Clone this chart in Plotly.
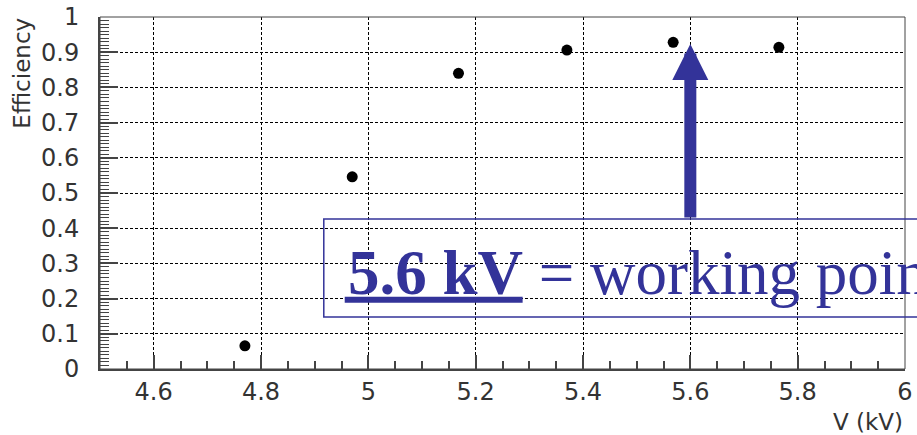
import plotly.graph_objects as go

# Data
voltage_kv = [4.77, 4.97, 5.168, 5.37, 5.568, 5.765]
efficiency = [0.066, 0.546, 0.840, 0.906, 0.928, 0.914]

x_tickvals = [4.6, 4.8, 5.0, 5.2, 5.4, 5.6, 5.8, 6.0]
x_ticktext = ["4.6", "4.8", "5", "5.2", "5.4", "5.6", "5.8", "6"]
y_tickvals = [0, 0.1, 0.2, 0.3, 0.4, 0.5, 0.6, 0.7, 0.8, 0.9, 1.0]
y_ticktext = ["0", "0.1", "0.2", "0.3", "0.4", "0.5", "0.6", "0.7", "0.8", "0.9", "1"]

working_point = 5.6
arrow_tip_y = 0.923
box_top_y = 0.426
box_bottom_y = 0.148

BLUE = "rgb(51,51,153)"
AXC = "#444444"
TICKFONT = dict(family="DejaVu Sans", size=24, color="#333333")

fig = go.Figure()
fig.add_trace(go.Scatter(
    x=voltage_kv, y=efficiency, mode="markers",
    marker=dict(color="black", size=11, symbol="circle"),
    showlegend=False, cliponaxis=False,
))

fig.update_layout(
    width=917, height=435,
    margin=dict(l=100, r=12, t=17, b=66),
    paper_bgcolor="white", plot_bgcolor="white",
    xaxis=dict(
        range=[4.5, 6.0], tickvals=x_tickvals, ticktext=x_ticktext, automargin=False,
        showgrid=True, gridcolor="black", gridwidth=1, griddash="3px,2px",
        zeroline=False, showline=True, linewidth=2, linecolor=AXC,
        ticks="inside", ticklen=14, tickwidth=1.5, tickcolor=AXC,
        minor=dict(dtick=0.05, tick0=4.5, ticks="inside", ticklen=8, tickwidth=1.5, tickcolor=AXC, showgrid=False),
        tickfont=TICKFONT, ticklabelstandoff=0,
    ),
    yaxis=dict(
        range=[0, 1.0], tickvals=y_tickvals, ticktext=y_ticktext, automargin=False,
        showgrid=True, gridcolor="black", gridwidth=1, griddash="3px,2px",
        zeroline=False, showline=True, linewidth=2, linecolor=AXC,
        ticks="inside", ticklen=18, tickwidth=1.5, tickcolor=AXC,
        minor=dict(dtick=0.01, tick0=0, ticks="inside", ticklen=9, tickwidth=1.2, tickcolor=AXC, showgrid=False),
        tickfont=TICKFONT, ticklabelstandoff=14,
    ),
)

# frame (top/right)
fig.add_shape(type="rect", xref="paper", yref="paper", x0=0, x1=1, y0=0, y1=1,
              line=dict(color=AXC, width=1), layer="above")

# axis titles
fig.add_annotation(text="Efficiency", xref="paper", yref="paper", x=-0.097, y=1.005,
                   xanchor="center", yanchor="top", textangle=-90, showarrow=False,
                   font=dict(family="DejaVu Sans", size=23, color="#333333"))
fig.add_annotation(text="V (kV)", xref="paper", yref="paper", x=1.0, y=-0.15,
                   xanchor="right", yanchor="middle", showarrow=False,
                   font=dict(family="DejaVu Sans", size=23, color="#333333"))

# working point box
fig.add_shape(type="rect", xref="paper", yref="y", x0=0.278, x1=1.05,
              y0=box_bottom_y, y1=box_top_y, line=dict(color=BLUE, width=1.5))
fig.add_annotation(text="<b>5.6 kV</b> = working point", xref="paper", yref="y",
                   x=0.305, y=0.273, xanchor="left", yanchor="middle", showarrow=False,
                   font=dict(family="Liberation Serif", size=63, color=BLUE))
# underline
fig.add_shape(type="line", xref="paper", yref="y", x0=0.304, x1=0.525,
              y0=0.197, y1=0.197, line=dict(color=BLUE, width=6))

# arrow
fig.add_annotation(x=working_point, y=arrow_tip_y, ax=working_point, ay=box_top_y,
                   xref="x", yref="y", axref="x", ayref="y", text="",
                   showarrow=True, arrowhead=2, arrowsize=0.6, arrowwidth=12, arrowcolor=BLUE)

fig.write_html("out.html")
